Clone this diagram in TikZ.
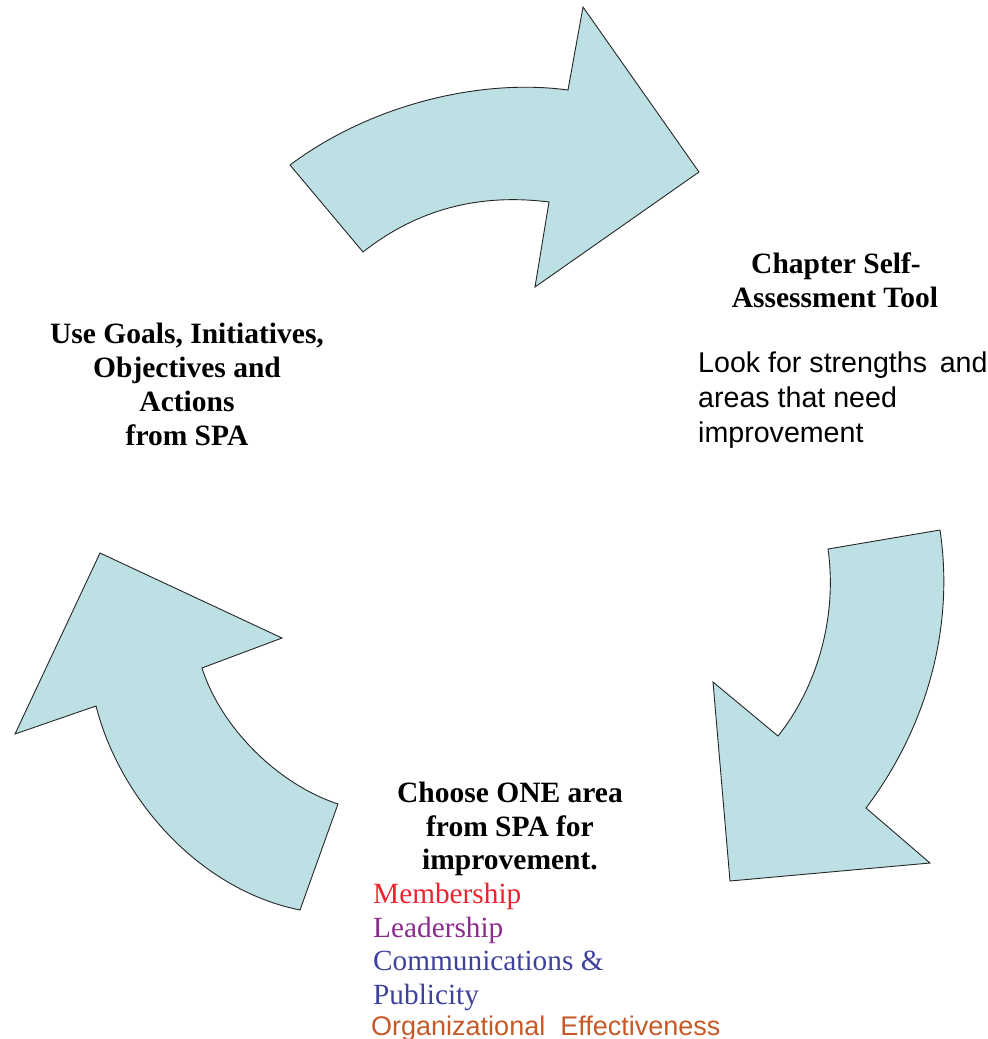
\documentclass[tikz,border=0pt]{standalone}
\usepackage{fontspec}
\setmainfont{Liberation Serif}
\newfontfamily\arialf{Liberation Sans}
\definecolor{arrowfill}{RGB}{189,224,228}
\definecolor{cred}{RGB}{238,36,46}
\definecolor{cpurple}{RGB}{138,44,140}
\definecolor{cblue}{RGB}{62,66,156}
\definecolor{corange}{RGB}{197,90,40}
\begin{document}
\begin{tikzpicture}[x=1pt,y=-1pt,
  arrowshape/.style={fill=arrowfill, draw=black!85, line width=0.9pt, line join=miter},
  boldtxt/.style={anchor=base, inner sep=0pt, font=\fontsize{29.5}{30}\selectfont\bfseries},
  listtxt/.style={anchor=base west, inner sep=0pt, font=\fontsize{29.3}{30}\selectfont},
  sanstxt/.style={anchor=base west, inner sep=0pt, font=\arialf\fontsize{28.6}{30}\selectfont}]
\useasboundingbox (0,0) rectangle (988,1039);
% top arrow
\draw[arrowshape] (290,165) .. controls (370,105) and (480,78) .. (568,90)
  -- (583,7) -- (699,172) -- (535,287) -- (549,202)
  .. controls (470,192) and (410,215) .. (363,252) -- cycle;
% right arrow
\draw[arrowshape] (940,530) .. controls (955,630) and (925,730) .. (866,808)
  -- (930,863) -- (730,881) -- (713,682) -- (778,736)
  .. controls (815,690) and (838,620) .. (828,549) -- cycle;
% left arrow
\draw[arrowshape] (338,804) .. controls (275,783) and (220,725) .. (202,668)
  -- (282,638) -- (100,553) -- (15,734) -- (96,706)
  .. controls (120,800) and (200,890) .. (300,910) -- cycle;
% texts top right
\node[boldtxt] (ch1) at (836,273) {Chapter Self-};
\node[boldtxt] (ch2) at (835,307) {Assessment Tool};
\node[sanstxt] (lk1) at (698,372) {Look for strengths\ \,and};
\node[sanstxt] (lk2) at (698,407) {areas that need};
\node[sanstxt] (lk3) at (698,442) {improvement};
% texts left
\node[boldtxt] (ug1) at (187,343) {Use Goals, Initiatives,};
\node[boldtxt] (ug2) at (187,377) {Objectives and};
\node[boldtxt] (ug3) at (187,411) {Actions};
\node[boldtxt] (ug4) at (187,445) {from SPA};
% texts bottom
\node[boldtxt] (co1) at (510,802) {Choose ONE area};
\node[boldtxt] (co2) at (510,836) {from SPA for};
\node[boldtxt] (co3) at (510,869) {improvement.};
\node[listtxt, text=cred] (li1) at (373,903) {Membership};
\node[listtxt, text=cpurple] (li2) at (373,937) {Leadership};
\node[listtxt, text=cblue] (li3) at (373,970) {Communications \&};
\node[listtxt, text=cblue] (li4) at (373,1004) {Publicity};
\node[sanstxt, text=corange, font=\arialf\fontsize{27}{30}\selectfont] (li5) at (371,1035) {Organizational\ \ Effectiveness};
\end{tikzpicture}
\end{document}
